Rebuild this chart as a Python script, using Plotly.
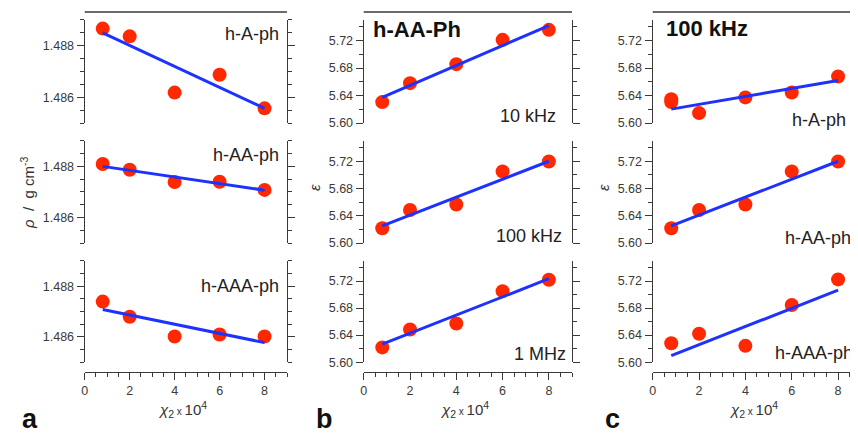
import plotly.graph_objects as go

# ---------------- data ----------------
x_vals = [0.8, 2, 4, 6, 8]
x_vals_c1 = [0.8, 0.8, 2, 4, 6, 8]
fit_x = [0.8, 8]

# column a: density
rho_hAph = [1.48866, 1.48836, 1.48618, 1.48687, 1.48557]
rho_hAph_fit = [1.48849, 1.48557]
rho_hAAph = [1.48809, 1.48787, 1.48739, 1.48740, 1.48708]
rho_hAAph_fit = [1.48800, 1.48707]
rho_hAAAph = [1.48739, 1.48679, 1.48601, 1.48609, 1.48601]
rho_hAAAph_fit = [1.48708, 1.48577]

# column b: h-AA-Ph at three frequencies
eps_10kHz = [5.6305, 5.6580, 5.6856, 5.7209, 5.7354]
eps_10kHz_fit = [5.6373, 5.7417]
eps_100kHz = [5.6218, 5.6485, 5.6566, 5.7051, 5.7196]
eps_100kHz_fit = [5.6252, 5.7200]
eps_1MHz = [5.6218, 5.6484, 5.6571, 5.7051, 5.7220]
eps_1MHz_fit = [5.6266, 5.7235]

# column c: 100 kHz, three polymers
eps_c_hAph = [5.6348, 5.6305, 5.6145, 5.6373, 5.6445, 5.6677]
eps_c_hAph_fit = [5.6203, 5.6620]
eps_c_hAAph = [5.6218, 5.6485, 5.6566, 5.7051, 5.7196]
eps_c_hAAph_fit = [5.6252, 5.7200]
eps_c_hAAAph = [5.6280, 5.6421, 5.6241, 5.6847, 5.7225]
eps_c_hAAAph_fit = [5.6097, 5.7065]

x_ticks = [0, 2, 4, 6, 8]
rho_ticks = [1.486, 1.488]
eps_ticks = [5.60, 5.64, 5.68, 5.72]

panel_labels = ["a", "b", "c"]
col_a_labels = ["h-A-ph", "h-AA-ph", "h-AAA-ph"]
col_b_labels = ["10 kHz", "100 kHz", "1 MHz"]
col_c_labels = ["h-A-ph", "h-AA-ph", "h-AAA-ph"]
col_b_title = "h-AA-Ph"
col_c_title = "100 kHz"

# ---------------- layout helpers ----------------
# the page body has an 8 px margin, so the figure sits at (8, 8) in the window
OFF = 8
W, H = 850, 430
def px(x): return (x - OFF) / W
def py(y): return 1 - (y - OFF) / H

col_dom = [(px(82), px(285)), (px(362), px(571)), (px(652), 1.0)]
col_xrange = [[0, 9], [0, 9], [0, 8.86]]
row_dom = [(py(125), py(20)), (py(247), py(143)), (py(368), py(265))]

AX = "#3a3a3a"
FONT = "Liberation Sans, Arial, sans-serif"
RED = "#FF2800"
BLUE = "#1E32FF"

panels = [
    # (col, row, x, y, fit)
    (0, 0, x_vals, rho_hAph, rho_hAph_fit),
    (0, 1, x_vals, rho_hAAph, rho_hAAph_fit),
    (0, 2, x_vals, rho_hAAAph, rho_hAAAph_fit),
    (1, 0, x_vals, eps_10kHz, eps_10kHz_fit),
    (1, 1, x_vals, eps_100kHz, eps_100kHz_fit),
    (1, 2, x_vals, eps_1MHz, eps_1MHz_fit),
    (2, 0, x_vals_c1, eps_c_hAph, eps_c_hAph_fit),
    (2, 1, x_vals, eps_c_hAAph, eps_c_hAAph_fit),
    (2, 2, x_vals, eps_c_hAAAph, eps_c_hAAAph_fit),
]

fig = go.Figure()
layout = {}
for i, (c, r, xs, ys, fit) in enumerate(panels):
    n = i + 1
    xa = "x" if n == 1 else f"x{n}"
    ya = "y" if n == 1 else f"y{n}"
    xkey = "xaxis" if n == 1 else f"xaxis{n}"
    ykey = "yaxis" if n == 1 else f"yaxis{n}"
    fig.add_trace(go.Scatter(x=xs, y=ys, xaxis=xa, yaxis=ya, mode="markers",
                             marker=dict(size=14, color=RED), cliponaxis=False,
                             showlegend=False))
    fig.add_trace(go.Scatter(x=fit_x, y=fit, xaxis=xa, yaxis=ya, mode="lines",
                             line=dict(color=BLUE, width=3), cliponaxis=False,
                             showlegend=False))
    if r == 2:
        layout[xkey] = dict(domain=col_dom[c], range=col_xrange[c], anchor="free",
                            position=py(378), showline=True, linecolor=AX, linewidth=1.4,
                            ticks="outside", ticklen=7, tickwidth=1.3, tickcolor=AX,
                            tickvals=x_ticks, showgrid=False, zeroline=False,
                            tickfont=dict(family=FONT, size=12.5, color=AX),
                            minor=dict(dtick=0.5, tick0=0, ticks="outside", ticklen=4,
                                       tickwidth=1.3, tickcolor=AX, showgrid=False))
    else:
        layout[xkey] = dict(domain=col_dom[c], range=col_xrange[c], anchor=ya,
                            visible=False, showgrid=False, zeroline=False)
    if c == 0:
        yr = [1.485, 1.489]
        tv = rho_ticks
        fmt = ".3f"
        mdt = 0.0005
        t0 = 1.485
    else:
        yr = [5.60, 5.75]
        tv = eps_ticks
        fmt = ".2f"
        mdt = 0.02
        t0 = 5.60
    layout[ykey] = dict(domain=row_dom[r], range=yr, anchor=xa, showline=True,
                        linecolor=AX, linewidth=1.4, mirror=("allticks" if c < 2 else False),
                        ticks="outside", ticklen=7, tickwidth=1.3, tickcolor=AX,
                        tickvals=tv, tickformat=fmt, showgrid=False, zeroline=False,
                        tickfont=dict(family=FONT, size=12.5, color=AX),
                        minor=dict(dtick=mdt, tick0=t0, ticks="outside", ticklen=4,
                                   tickwidth=1.3, tickcolor=AX, showgrid=False))

annotations = []
def ann(text, x, y, xanchor="center", size=18, bold=False, angle=0, color="#222222"):
    t = f"<b>{text}</b>" if bold else text
    annotations.append(dict(text=t, x=px(x), y=py(y), xref="paper", yref="paper",
                            xanchor=xanchor, yanchor="middle", showarrow=False,
                            textangle=angle,
                            font=dict(family=FONT, size=size, color=color)))

row_label_y = [34, 157, 291]
for r in range(3):
    ann(col_a_labels[r], 279, row_label_y[r], xanchor="right", size=18)
ann(col_b_labels[0], 557, 118, xanchor="right", size=18)
ann(col_b_labels[1], 563, 240, xanchor="right", size=18)
ann(col_b_labels[2], 567, 360, xanchor="right", size=18)
ann(col_b_title, 369, 30, xanchor="left", size=22, bold=True, color="#111111")
ann(col_c_title, 663, 29, xanchor="left", size=22, bold=True, color="#111111")
ann(col_c_labels[0], 848, 122, xanchor="right", size=18)
ann(col_c_labels[1], 853, 242, xanchor="right", size=18)
ann(col_c_labels[2], 855, 359, xanchor="right", size=18)

# axis titles
ann("<i>ρ</i>  /  g cm<sup>-3</sup>", 25, 196, size=15, angle=-90, color="#333333")
ann("<i>ε</i>", 312, 190, size=15, angle=-90, color="#333333")
ann("<i>ε</i>", 602, 190, size=15, angle=-90, color="#333333")
xtitle = "<i>χ</i><sub>2</sub><span style='font-size:10px'> x </span>10<sup>4</sup>"
for cx in [180, 463, 753]:
    ann(xtitle, cx, 416, size=15, color="#333333")

# panel letters
for lab, lx in zip(panel_labels, [27, 323, 612]):
    ann(lab, lx, 426, size=27, bold=True, color="#111111")

shapes = []
for x0, x1 in [(82, 285), (362, 571), (652, 858)]:
    shapes.append(dict(type="line", xref="paper", yref="paper", x0=px(x0), x1=px(x1),
                       y0=py(12), y1=py(12), line=dict(color=AX, width=1.4)))

fig.update_layout(**layout)
fig.update_layout(width=W, height=H, margin=dict(l=0, r=0, t=0, b=0),
                  plot_bgcolor="white", paper_bgcolor="white",
                  annotations=annotations, shapes=shapes, showlegend=False)

fig.write_html("out.html")
